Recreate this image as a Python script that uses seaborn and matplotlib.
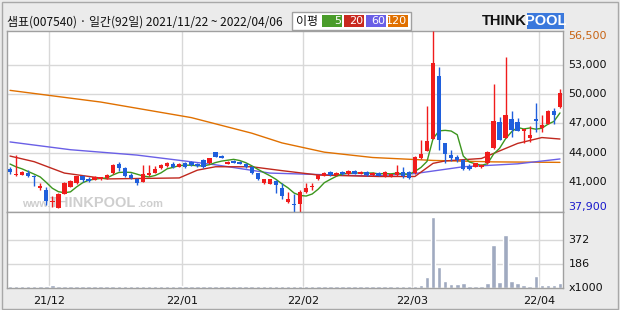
import numpy as np
import pandas as pd
import matplotlib
matplotlib.use("Agg")
import matplotlib.pyplot as plt
import seaborn as sns
from matplotlib.transforms import blended_transform_factory

sns.set_theme(style="white")
plt.rcParams["font.family"] = ["DejaVu Sans"]

# ---------------- data ----------------
title_text = "샘표(007540) · 일간(92일) 2021/11/22 ~ 2022/04/06"
month_labels = ["21/12", "22/01", "22/02", "22/03", "22/04"]
month_start_idx = [7, 29, 49, 67, 88]

opens = [42300, 41700, 41750, 41950, 41650, 40350, 40150, 38900, 38300, 39800,
         40500, 40850, 41550, 41300, 41200, 41250, 41350, 41900, 42800, 42400,
         41700, 41250, 41000, 41700, 41950, 42400, 42600, 42850, 42550, 42900,
         43000, 42850, 43200, 42900, 44050, 43650, 42850, 43150, 43000, 42850,
         42550, 41900, 40850, 40800, 41100, 40350, 38950, 38750, 38700, 40000,
         40450, 41250, 41600, 42000, 41700, 42000, 41800, 42100, 41850, 42000,
         41700, 41900, 41550, 41550, 41700, 42050, 42050, 41900, 43400, 44200,
         45450, 51900, 44950, 43750, 43600, 43200, 42650, 42550, 42500, 42900,
         44450, 47200, 45550, 47450, 47200, 46250, 45550, 47450, 46500, 46950,
         48300, 48650]
highs = [42550, 43750, 42100, 42200, 41700, 40900, 40500, 39500, 39850, 41000,
         41200, 41600, 41700, 41450, 41550, 41500, 41850, 42850, 43000, 42550,
         41900, 41350, 42700, 42750, 42600, 42850, 43000, 43000, 42950, 43050,
         43150, 42950, 43300, 43500, 44100, 43750, 43100, 43250, 43100, 42950,
         42600, 41950, 41300, 41300, 41200, 40850, 40000, 39700, 40150, 40900,
         40900, 41750, 42000, 42100, 42050, 42100, 42200, 42200, 42100, 42100,
         42000, 42000, 42100, 41850, 42750, 42550, 42100, 43700, 45300, 48800,
         56500, 52850, 45000, 44250, 43750, 43300, 42800, 42950, 42800, 44200,
         51100, 47700, 53850, 48300, 47600, 46450, 46700, 49150, 47900, 48350,
         48550, 50550]
lows = [41800, 41650, 41700, 41450, 40550, 40150, 38600, 38450, 38300, 39700,
        40450, 40800, 41000, 40950, 41150, 41200, 41300, 41800, 42150, 41500,
        41250, 40650, 40950, 41650, 41900, 42350, 42550, 42450, 42500, 42400,
        42650, 42500, 42400, 42850, 43550, 43450, 42800, 42900, 42800, 42400,
        41850, 41200, 40800, 40750, 39850, 39250, 38800, 37900, 37900, 39850,
        40200, 41200, 41550, 41650, 41650, 41750, 41750, 41800, 41800, 41650,
        41650, 41600, 41500, 41500, 41650, 41400, 41300, 41850, 43350, 44150,
        45400, 44250, 42950, 43100, 43050, 42200, 42200, 42500, 42450, 42850,
        44400, 45250, 45500, 45600, 46200, 44950, 45050, 46100, 46100, 46900,
        46950, 48550]
closes = [42050, 41850, 42050, 41550, 41450, 40600, 39050, 39050, 39800, 40900,
          41050, 41550, 41200, 41100, 41450, 41450, 41750, 42750, 42400, 41600,
          41350, 40850, 41800, 41950, 42300, 42750, 42900, 42550, 42850, 42500,
          42750, 42600, 42500, 43450, 43600, 43500, 43050, 42950, 42850, 42500,
          41900, 41250, 41250, 41250, 40650, 39550, 39200, 38600, 40000, 40350,
          40600, 41700, 41900, 41700, 41950, 41800, 42100, 41850, 42000, 41700,
          41900, 41650, 42050, 41800, 42050, 41550, 41350, 43600, 43850, 45150,
          53250, 45350, 43850, 43500, 43250, 42300, 42300, 42900, 42750, 44050,
          47200, 45300, 47850, 46350, 46250, 46400, 45800, 47250, 46850, 48300,
          47850, 50150]
# volume in thousands of shares
volumes = [14, 14, 13, 14, 14, 13, 14, 22, 14, 13,
           14, 14, 13, 14, 13, 14, 14, 13, 14, 14,
           13, 14, 14, 13, 14, 14, 13, 14, 14, 13,
           14, 14, 13, 14, 14, 13, 14, 14, 13, 14,
           14, 13, 14, 14, 13, 14, 14, 13, 14, 14,
           13, 14, 14, 13, 14, 14, 13, 14, 14, 13,
           14, 14, 13, 14, 14, 13, 14, 15, 20, 85,
           550, 160, 55, 30, 30, 35, 15, 18, 18, 35,
           335, 50, 410, 55, 42, 25, 18, 93, 25, 25,
           25, 35]
prior_closes = [43300, 43100, 42900, 42800]

ma20_days = [0, 4, 9, 16, 28, 31, 34, 40, 45, 51, 61, 67, 70, 72, 78, 84, 88, 91]
ma20_vals = [43650, 43070, 41900, 41300, 41400, 42200, 42550, 42550, 42150, 41700,
             41550, 41550, 42900, 43150, 43400, 44950, 45550, 45400]
ma60_days = [0, 10, 21, 34, 43, 51, 60, 67, 75, 84, 91]
ma60_vals = [45100, 44300, 43750, 42750, 41900, 41750, 41600, 41850, 42550, 42850, 43350]
ma120_days = [0, 15, 30, 40, 45, 52, 60, 70, 80, 91]
ma120_vals = [50400, 49200, 47600, 46000, 45000, 44050, 43500, 43200, 43050, 43000]

price_ticks = [53000, 50000, 47000, 44000, 41000]
price_max, price_min = 56500, 37900
vol_ticks = [186, 372]

# ---------------- figure ----------------
W, H = 620, 310
fig = plt.figure(figsize=(W / 100, H / 100), dpi=100, facecolor="#ebebeb")

def fx(px):
    return px / W

def fy(py):
    return 1 - py / H

axp = fig.add_axes([fx(7), fy(212), fx(563) - fx(7), fy(31) - fy(212)])
axv = fig.add_axes([fx(7), fy(288), fx(563) - fx(7), fy(212) - fy(288)])

n = len(closes)
x = np.arange(n)
o = np.array(opens); c = np.array(closes); h = np.array(highs); l = np.array(lows)
up = c >= o
red, blue = "#f01c1c", "#1f5fdc"
cols = np.where(up, red, blue)

for ax in (axp, axv):
    ax.set_facecolor("white")
    ax.set_xlim(-0.5, n - 0.5)
    for s in ax.spines.values():
        s.set_color("#a0a0a0")
        s.set_linewidth(1)
    ax.set_xticks([])
    ax.set_yticks([])
    for m in month_start_idx:
        ax.axvline(m - 0.5, color="#d8d8d8", lw=1, zorder=0)

for t in price_ticks:
    axp.axhline(t, color="#d8d8d8", lw=1, zorder=0)
axp.set_ylim(price_min, price_max)

# watermark
wm = dict(transform=axp.transAxes, color="#cecece", fontweight="bold", zorder=1,
          va="baseline", family="Liberation Sans")
axp.text(0.027, 0.025, "www.", fontsize=8, **wm)
axp.text(0.077, 0.025, "THINKPOOL", fontsize=10.5, **wm)
axp.text(0.235, 0.025, ".com", fontsize=8, **wm)

# moving averages
ma5 = pd.Series(prior_closes + closes).rolling(5).mean().to_numpy()[len(prior_closes):]
sns.lineplot(x=ma120_days, y=ma120_vals, ax=axp, color="#e07000", lw=1, zorder=2)
sns.lineplot(x=ma60_days, y=ma60_vals, ax=axp, color="#6a5fe6", lw=1, zorder=2)
sns.lineplot(x=ma20_days, y=ma20_vals, ax=axp, color="#c0281e", lw=1, zorder=2)
sns.lineplot(x=x, y=ma5, ax=axp, color="#3c961e", lw=1, zorder=2)

# candles
axp.vlines(x, l, h, colors=cols, lw=1, zorder=3)
body_lo = np.minimum(o, c)
body_h = np.maximum(np.abs(c - o), 60)
axp.bar(x, body_h, bottom=body_lo, width=0.72, color=cols, linewidth=0, zorder=4)
axp.set_xlabel(""); axp.set_ylabel("")

# volume
for t in vol_ticks:
    axv.axhline(t, color="#d8d8d8", lw=1, zorder=0)
vdf = pd.DataFrame({"x": x, "v": volumes})
sns.barplot(data=vdf, x="x", y="v", ax=axv, native_scale=True, color="#a0aac0",
            width=0.75, saturation=1, zorder=2)
axv.set_xlim(-0.5, n - 0.5)
axv.set_ylim(0, 589)
axv.set_xticks([])
axv.set_yticks([])
axv.set_xlabel(""); axv.set_ylabel("")

# right labels
tp = blended_transform_factory(axp.transAxes, axp.transData)
for t in price_ticks:
    axp.text(1.01, t, f"{t:,}", transform=tp, fontsize=8, va="center", ha="left", color="#111111")
axp.text(1.01, price_max, f"{price_max:,}", transform=tp, fontsize=8, va="top",
         ha="left", color="#c86414")
axp.text(1.01, price_min, f"{price_min:,}", transform=tp, fontsize=8, va="bottom",
         ha="left", color="#1a1acc")
tv = blended_transform_factory(axv.transAxes, axv.transData)
for t in vol_ticks:
    axv.text(1.01, t, f"{t}", transform=tv, fontsize=8, va="center", ha="left", color="#111111")
axv.text(1.01, 0, "x1000", transform=tv, fontsize=8, va="center", ha="left", color="#111111")

# month labels
tx = blended_transform_factory(axv.transData, fig.transFigure)
for m, lab in zip(month_start_idx, month_labels):
    axv.text(m - 0.5, fy(301), lab, transform=tx, fontsize=8, ha="center", va="center",
             color="#111111")

# title
fig.text(fx(7), fy(22), title_text, fontsize=8.6, ha="left", va="center",
         family=["Noto Sans CJK KR", "DejaVu Sans"], color="#111111")

# MA legend
fig.patches.append(plt.Rectangle((fx(292), fy(30)), fx(411) - fx(292), fy(12) - fy(30),
                                 transform=fig.transFigure, facecolor="white",
                                 edgecolor="#a0a0a0", lw=1))
fig.text(fx(296), fy(21), "이평", fontsize=8.6, ha="left", va="center",
         family=["Noto Sans CJK KR", "DejaVu Sans"], color="#111111")
legend_items = [("5", "#4a9c2a", 322), ("20", "#c8281e", 344), ("60", "#6a5fe6", 366),
                ("120", "#e07000", 388)]
for lab, col, x0 in legend_items:
    fig.patches.append(plt.Rectangle((fx(x0), fy(27)), fx(20), fy(15) - fy(27),
                                     transform=fig.transFigure, facecolor=col,
                                     edgecolor="none"))
    fig.text(fx(x0 + 19), fy(21), lab, fontsize=8, ha="right", va="center", color="white")

# logo
fig.text(fx(482), fy(21), "THINK", fontsize=10.5, fontweight="bold", ha="left", va="center",
         family="Liberation Sans", color="#111111")
fig.patches.append(plt.Rectangle((fx(527), fy(29)), fx(37), fy(13) - fy(29),
                                 transform=fig.transFigure, facecolor="#3a78dc",
                                 edgecolor="none"))
fig.text(fx(545.5), fy(21), "POOL", fontsize=10.5, fontweight="bold", ha="center", va="center",
         family="Liberation Sans", color="white")

# outer frame
fig.patches.append(plt.Rectangle((fx(1.5), fy(308.5)), fx(616), fy(1.5) - fy(308.5),
                                 transform=fig.transFigure, facecolor="none",
                                 edgecolor="#a8a8a8", lw=1))

fig.savefig("out.png", dpi=100, facecolor=fig.get_facecolor())
